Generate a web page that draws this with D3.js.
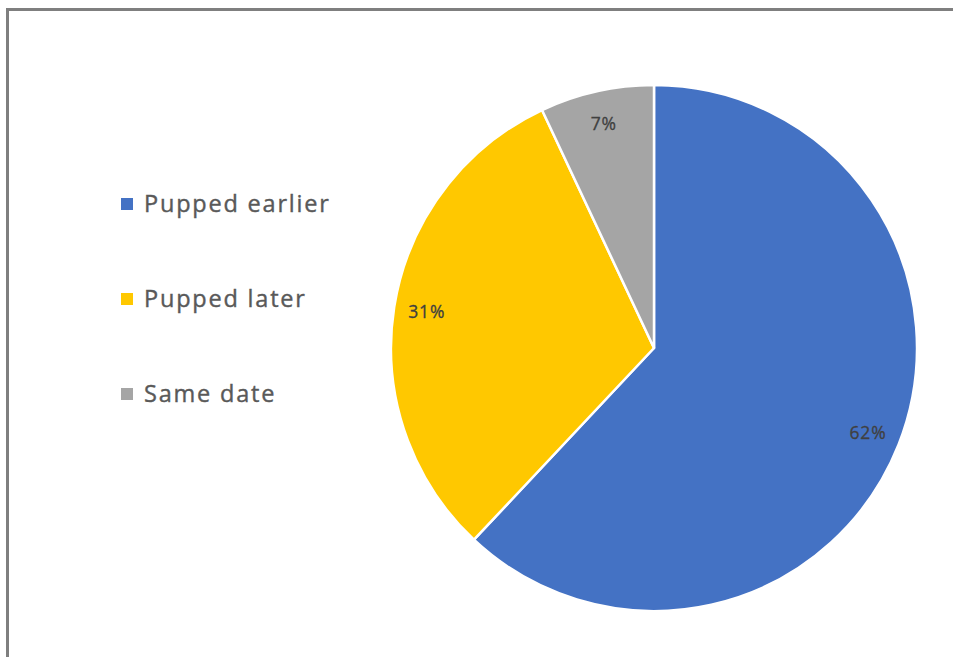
<!DOCTYPE html>
<html>
<head>
<meta charset="utf-8">
<script src="https://cdn.jsdelivr.net/npm/d3@7"></script>
<style>
  html, body { margin: 0; padding: 0; background: #fff; overflow: hidden; }
  svg { display: block; }
</style>
</head>
<body>
<div id="chart"></div>
<script>
const categories = ['Pupped earlier', 'Pupped later', 'Same date'];
const shares = [62, 31, 7];
const colors = ['#4472C4', '#FFC800', '#A5A5A5'];

const W = 953, H = 657;
const cx = 654, cy = 348, r = 263;

const svg = d3.select("#chart")
    .append("svg")
    .attr("width", W)
    .attr("height", H);

// Frame (runs off the right and bottom edges)
svg.append("rect")
    .attr("x", 7.5)
    .attr("y", 9.5)
    .attr("width", W + 20)
    .attr("height", H + 20)
    .attr("fill", "#fff")
    .attr("stroke", "#7f7f7f")
    .attr("stroke-width", 3);

const pie = d3.pie().sort(null).value(d => d);
const arcs = pie(shares);

const arc = d3.arc().innerRadius(0).outerRadius(r);
const labelArc = d3.arc().innerRadius(r * 0.875).outerRadius(r * 0.875);

const g = svg.append("g").attr("transform", `translate(${cx},${cy})`);

g.selectAll("path")
    .data(arcs)
    .join("path")
    .attr("d", arc)
    .attr("fill", (d, i) => colors[i])
    .attr("stroke", "#fff")
    .attr("stroke-width", 2.5)
    .attr("stroke-linejoin", "round");

g.selectAll("text")
    .data(arcs)
    .join("text")
    .attr("transform", d => `translate(${labelArc.centroid(d)})`)
    .attr("text-anchor", "middle")
    .attr("dy", "0.35em")
    .style("font-family", "'Open Sans', sans-serif")
    .style("font-size", "17.5px")
    .style("letter-spacing", "0.8px")
    .style("fill", "#404040")
    .style("stroke", "#404040")
    .style("stroke-width", "0.3px")
    .text(d => d.data + "%");

// Legend
const legend = svg.append("g");
const ly = d3.scalePoint().domain(categories).range([204, 394]);

const item = legend.selectAll("g")
    .data(categories)
    .join("g")
    .attr("transform", d => `translate(121,${ly(d)})`);

item.append("rect")
    .attr("x", 0)
    .attr("y", -6)
    .attr("width", 12)
    .attr("height", 12)
    .attr("fill", (d, i) => colors[i]);

item.append("text")
    .attr("x", 23)
    .attr("dy", "0.32em")
    .style("font-family", "'Open Sans', sans-serif")
    .style("font-size", "23.5px")
    .style("letter-spacing", "1.8px")
    .style("fill", "#595959")
    .style("stroke", "#595959")
    .style("stroke-width", "0.4px")
    .text(d => d);
</script>
</body>
</html>
